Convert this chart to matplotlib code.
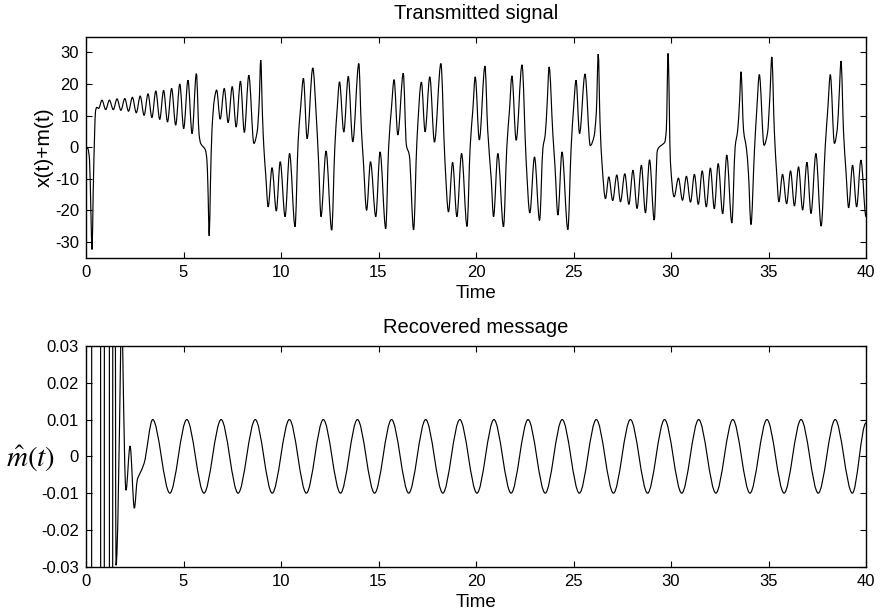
import numpy as np
import matplotlib
matplotlib.use("Agg")
import matplotlib.pyplot as plt
from matplotlib.path import Path
from matplotlib.patches import PathPatch

plt.rcParams["font.family"] = ["Liberation Sans", "DejaVu Sans"]
plt.rcParams["axes.unicode_minus"] = False
plt.rcParams["mathtext.fontset"] = "stix"

# ---------------- transmitted signal x(t)+m(t): turning points and shoulders
TX_T = [0.00, 0.10, 0.18, 0.25, 0.31, 0.37, 0.44, 0.49, 0.55, 0.65,
        0.82, 1.01, 1.20, 1.40, 1.59, 1.79, 1.99, 2.18, 2.38, 2.58,
        2.78, 2.98, 3.18, 3.38, 3.58, 3.78, 3.98, 4.18, 4.39, 4.60,
        4.81, 5.01, 5.23, 5.44, 5.66, 5.80, 5.88, 6.00, 6.12, 6.20,
        6.25, 6.32, 6.38, 6.46, 6.58, 6.70, 6.88, 7.09, 7.29, 7.50,
        7.70, 7.92, 8.12, 8.35, 8.61, 8.78, 8.88, 8.96, 9.05, 9.12,
        9.22, 9.34, 9.54, 9.76, 9.96, 10.21, 10.44, 10.72, 10.88, 11.00,
        11.15, 11.34, 11.63, 11.82, 11.93, 12.05, 12.31, 12.60, 12.76, 12.88,
        13.00, 13.22, 13.45, 13.68, 13.99, 14.12, 14.22, 14.39, 14.59, 14.86,
        15.08, 15.37, 15.52, 15.66, 15.80, 15.99, 16.27, 16.43, 16.58, 16.80,
        16.97, 17.20, 17.39, 17.63, 17.87, 18.20, 18.40, 18.59, 18.80, 19.02,
        19.26, 19.54, 19.70, 19.84, 19.96, 20.17, 20.46, 20.60, 20.78, 20.90,
        21.12, 21.41, 21.58, 21.72, 21.84, 22.06, 22.36, 22.57, 22.76, 23.00,
        23.26, 23.43, 23.55, 23.65, 23.75, 23.94, 24.05, 24.20, 24.41, 24.71,
        24.88, 25.00, 25.13, 25.31, 25.59, 25.86, 26.05, 26.17, 26.27, 26.36,
        26.46, 26.64, 26.81, 27.01, 27.22, 27.41, 27.63, 27.84, 28.05, 28.26,
        28.48, 28.69, 28.90, 29.14, 29.30, 29.42, 29.55, 29.68, 29.76, 29.85,
        29.97, 30.16, 30.38, 30.59, 30.79, 31.00, 31.20, 31.40, 31.60, 31.81,
        32.02, 32.22, 32.42, 32.65, 32.86, 33.12, 33.29, 33.42, 33.52, 33.59,
        33.72, 33.87, 33.97, 34.10, 34.28, 34.40, 34.53, 34.77, 34.95, 35.07,
        35.17, 35.30, 35.42, 35.53, 35.72, 35.93, 36.13, 36.33, 36.54, 36.75,
        36.97, 37.18, 37.43, 37.70, 37.91, 38.04, 38.17, 38.38, 38.53, 38.62,
        38.72, 38.85, 38.97, 39.11, 39.31, 39.52, 39.74, 40.00]
TX_V = [0.0, -0.5, -4.0, -20.0, -32.4, -14.0, 4.0, 11.5, 12.6, 12.3,
        14.9, 11.9, 14.9, 11.9, 15.3, 11.7, 15.4, 11.4, 15.8, 10.9,
        16.2, 10.1, 16.9, 9.4, 17.8, 8.8, 18.0, 8.0, 18.6, 7.0,
        20.0, 5.9, 21.2, 4.3, 23.3, 4.0, 1.2, 0.2, -0.8, -4.0,
        -12.0, -28.1, -12.0, 5.4, 15.0, 18.1, 8.9, 18.6, 7.8, 19.2,
        6.4, 20.9, 4.7, 22.8, 1.2, 5.0, 14.0, 27.6, 10.0, 0.0,
        -9.0, -18.9, -6.5, -20.2, -4.6, -22.0, -2.0, -25.2, 2.0, 12.0,
        21.8, 2.7, 25.1, 8.6, -5.0, -22.0, -1.2, -26.3, 0.0, 12.0,
        20.7, 4.8, 22.4, 1.7, 26.5, 6.0, -4.0, -20.0, -4.6, -22.0,
        -1.5, -25.8, 0.0, 12.0, 21.4, 3.9, 23.4, 0.6, -2.5, -26.2,
        2.0, 20.6, 4.9, 22.3, 1.6, 26.5, -3.5, -20.5, -4.8, -22.0,
        -2.0, -25.1, 0.1, 12.0, 22.3, 2.3, 25.7, 5.4, -10.0, -22.0,
        -2.0, -25.2, 0.0, 12.0, 22.6, 2.2, 26.1, -4.1, -20.8, -3.1,
        -23.2, -0.4, 4.0, 14.0, 25.4, 4.3, -6.0, -21.5, -1.5, -26.1,
        0.0, 12.0, 21.2, 4.3, 23.2, 0.5, 3.3, 11.0, 29.5, 8.0,
        -5.0, -16.3, -9.4, -16.9, -8.8, -17.3, -8.4, -18.1, -7.3, -19.4,
        -5.7, -20.8, -4.0, -23.1, -1.0, 0.2, 0.8, 1.6, 5.4, 29.7,
        -4.6, -15.7, -9.8, -16.8, -9.2, -17.4, -8.6, -18.1, -7.5, -18.9,
        -6.6, -19.5, -5.2, -21.1, -2.5, -24.0, 0.1, 5.4, 15.0, 23.9,
        5.4, -0.5, -8.0, -24.5, -1.0, 12.0, 23.0, 0.6, 4.5, 16.0,
        28.6, 5.0, -8.3, -17.3, -8.6, -17.9, -7.5, -18.6, -6.2, -19.9,
        -4.8, -21.0, -2.0, -25.0, 0.3, 12.0, 23.0, 1.2, 6.0, 16.0,
        27.3, 4.5, -7.3, -19.2, -5.7, -18.9, -4.1, -22.0]

# ---------------- recovered message: start-up transient, then crests/troughs
RX_T = [0.00, 0.27, 0.31, 0.73, 0.77, 0.92, 0.96, 1.18, 1.22, 1.35,
        1.39, 1.47, 1.54, 1.78, 1.83, 1.88, 2.05, 2.26, 2.48, 2.63,
        2.77, 2.98]
RX_V = [-0.3, -0.3, 0.3, 0.3, -0.3, -0.3, 0.3, 0.3, -0.3, -0.3,
        0.3, 0.15, -0.0296, 0.03, 0.06, 0.03, -0.0092, 0.0028, -0.0141, -0.0064,
        -0.0046, -0.0019]
CREST_T = [3.42, 5.17, 6.93, 8.68, 10.43, 12.17, 13.92, 15.67, 17.42, 19.17,
           20.92, 22.67, 24.42, 26.17, 27.92, 29.67, 31.42, 33.17, 34.92, 36.67,
           38.42]
TROUGH_T = [4.30, 6.05, 7.80, 9.55, 11.30, 13.05, 14.80, 16.55, 18.30, 20.05,
            21.80, 23.55, 25.30, 27.05, 28.80, 30.55, 32.30, 34.05, 35.80, 37.55,
            39.30]
CREST_V = 0.0100
TROUGH_V = -0.0100
RX_END = (40.0, 0.0091)

X_TICKS = [0, 5, 10, 15, 20, 25, 30, 35, 40]
TX_YTICKS = [-30, -20, -10, 0, 10, 20, 30]
RX_YTICKS = [-0.03, -0.02, -0.01, 0.0, 0.01, 0.02, 0.03]
RX_YLABELS = ["-0.03", "-0.02", "-0.01", "0", "0.01", "0.02", "0.03"]


def smooth_path(t, v):
    """Monotone cubic Bezier path through the given points (horizontal at turning points)."""
    t = np.asarray(t, float)
    v = np.asarray(v, float)
    d = np.diff(v) / np.diff(t)
    m = np.zeros_like(v)
    for i in range(1, len(v) - 1):
        if d[i - 1] * d[i] > 0:
            m[i] = 2 * d[i - 1] * d[i] / (d[i - 1] + d[i])
    verts = [(t[0], v[0])]
    codes = [Path.MOVETO]
    for i in range(len(t) - 1):
        h = t[i + 1] - t[i]
        verts += [(t[i] + h / 3, v[i] + m[i] * h / 3),
                  (t[i + 1] - h / 3, v[i + 1] - m[i + 1] * h / 3),
                  (t[i + 1], v[i + 1])]
        codes += [Path.CURVE4] * 3
    return Path(verts, codes)


def style_axes(ax):
    ax.tick_params(direction="in", top=True, right=True, length=4.5, width=0.8,
                   labelsize=12, pad=5, colors="black")
    for s in ax.spines.values():
        s.set_linewidth(1.0)
        s.set_color("black")


fig = plt.figure(figsize=(8.82, 6.13), dpi=100)
W, H = 882.0, 613.0
ax1 = fig.add_axes([86 / W, 1 - 257.7 / H, 780 / W, 221 / H])
ax2 = fig.add_axes([86 / W, 1 - 566.7 / H, 780 / W, 220.7 / H])

# top panel
ax1.add_patch(PathPatch(smooth_path(TX_T, TX_V), fill=False, edgecolor="black", lw=0.85))
ax1.set_xlim(0, 40)
ax1.set_ylim(-35, 35)
ax1.set_xticks(X_TICKS)
ax1.set_yticks(TX_YTICKS)
style_axes(ax1)
ax1.set_title("Transmitted signal", fontsize=14.5, pad=12.5)
ax1.set_xlabel("Time", fontsize=13.5, labelpad=3.5)
ax1.set_ylabel("x(t)+m(t)", fontsize=15, labelpad=1)

# bottom panel: transient followed by the alternating crests and troughs
rx_t = list(RX_T)
rx_v = list(RX_V)
for c, tr in zip(CREST_T, TROUGH_T):
    rx_t += [c, tr]
    rx_v += [CREST_V, TROUGH_V]
rx_t.append(RX_END[0])
rx_v.append(RX_END[1])
ax2.add_patch(PathPatch(smooth_path(rx_t, rx_v), fill=False, edgecolor="black", lw=0.85))
ax2.set_xlim(0, 40)
ax2.set_ylim(-0.03, 0.03)
ax2.set_xticks(X_TICKS)
ax2.set_yticks(RX_YTICKS)
ax2.set_yticklabels(RX_YLABELS)
style_axes(ax2)
ax2.set_title("Recovered message", fontsize=14.5, pad=9.5)
ax2.set_xlabel("Time", fontsize=13.5, labelpad=3.5)
ax2.set_ylabel(r"$\hat{m}(t)$", fontsize=21, rotation=0, ha="center", va="center")
ax2.yaxis.set_label_coords(-0.071, 0.49)

fig.savefig("out.png", dpi=100)
